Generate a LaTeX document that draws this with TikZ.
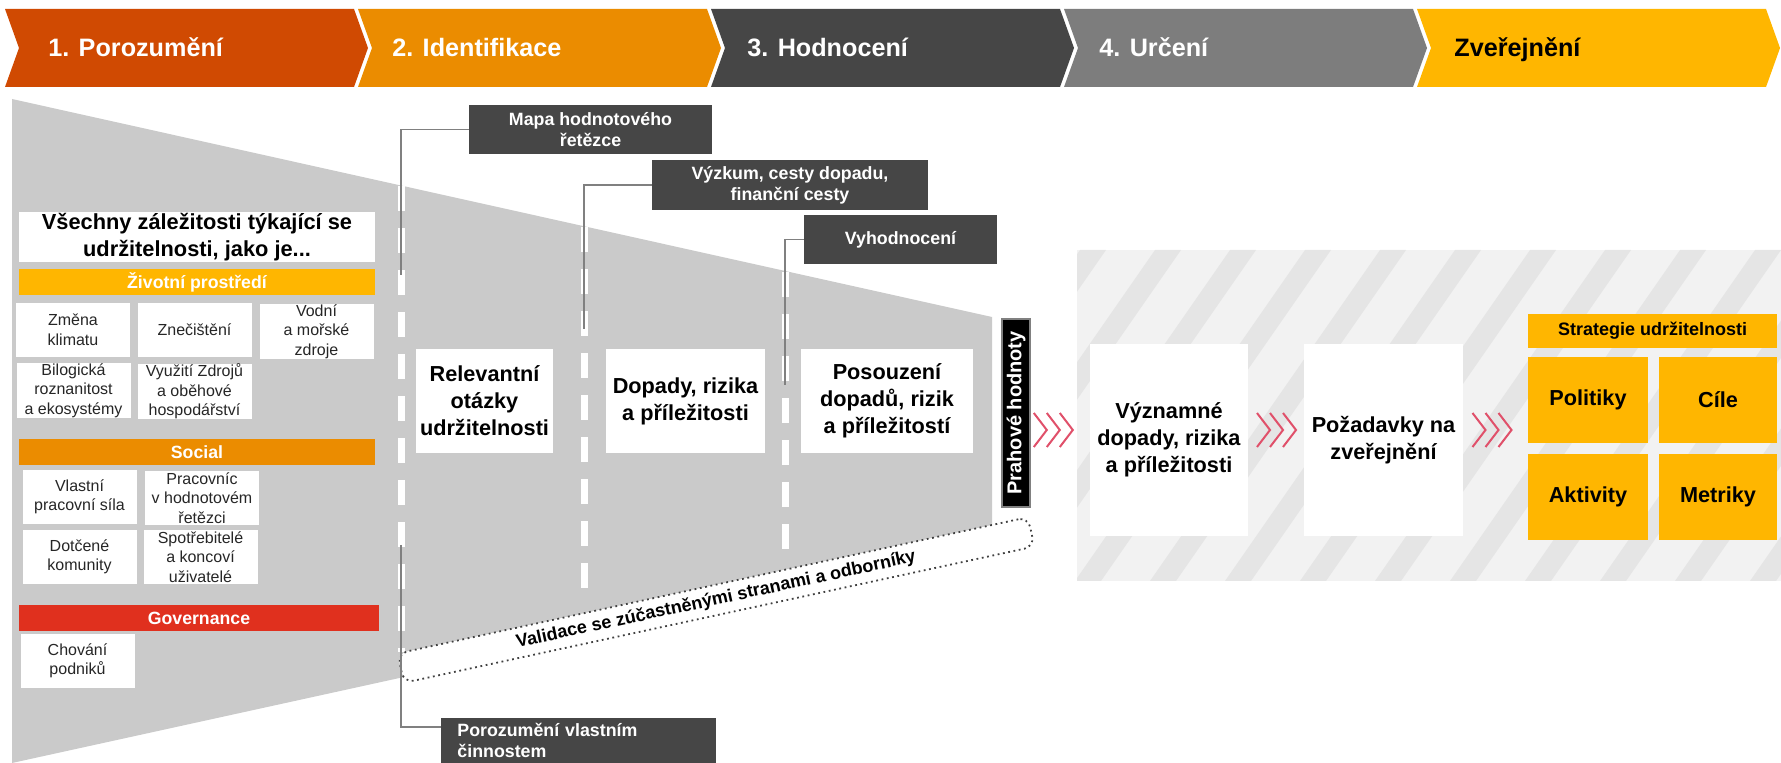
\documentclass[tikz,border=0pt]{standalone}
\usepackage{fontspec}
\setmainfont{Liberation Sans}
\usetikzlibrary{calc}

\definecolor{pwcorange}{HTML}{D04A02}
\definecolor{pwctangerine}{HTML}{EB8C00}
\definecolor{pwcdark}{HTML}{464646}
\definecolor{pwcgrey}{HTML}{7D7D7D}
\definecolor{pwcyellow}{HTML}{FFB600}
\definecolor{pwcred}{HTML}{E0301E}
\definecolor{pwcrose}{HTML}{E0506A}
\definecolor{funnelgrey}{HTML}{CACACA}
\definecolor{hatchbg}{HTML}{F2F2F2}
\definecolor{hatchstripe}{HTML}{E5E5E5}
\definecolor{linegrey}{HTML}{808080}

\begin{document}
\begin{tikzpicture}[x=0.5pt,y=-0.5pt,
		phase/.style={anchor=base west, inner sep=0pt, font=\bfseries\fontsize{12.6}{15}\selectfont},
		titlebox/.style={fill=white, align=center, inner sep=0pt, minimum width=178pt, minimum height=25pt,
			font=\bfseries\fontsize{10.9}{13.3}\selectfont},
		catbar/.style={fill=#1, text=white, inner sep=0pt, minimum width=178pt, minimum height=13pt,
			font=\bfseries\fontsize{8.85}{10}\selectfont},
		issue/.style={fill=white, text=black!85, align=center, inner sep=0pt, minimum width=57pt, minimum height=27pt,
			font=\fontsize{8}{9.75}\selectfont},
		darklabel/.style={fill=pwcdark, text=white, align=center, inner sep=0pt,
			font=\bfseries\fontsize{8.9}{10.5}\selectfont},
		stepbox/.style={fill=white, align=center, inner sep=0pt, minimum height=52pt,
			font=\bfseries\fontsize{10.85}{13.5}\selectfont},
		yellowbox/.style={fill=pwcyellow, align=center, inner sep=0pt, minimum width=60pt, minimum height=43pt,
			font=\bfseries\fontsize{10.85}{13.5}\selectfont},
		stagecut/.style={white, line width=3.5pt, dash pattern=on 12.5pt off 8.5pt},
		connector/.style={linegrey, line width=0.7pt},
		chevline/.style={pwcrose, line width=1pt},
		tripchev/.pic={\foreach \k in {0,1,2} \draw[chevline] ({\k*13-19},-17) -- ({\k*13-6},0) -- ({\k*13-19},17);}]
	\useasboundingbox (0,0) rectangle (1781,763);

	% phases
	\foreach \i/\col/\tx/\txt/\tcol in {0/pwcorange/48/1. Porozumění/white, 1/pwctangerine/392/2. Identifikace/white,
			2/pwcdark/747/3. Hodnocení/white, 3/pwcgrey/1099/4. Určení/white, 4/pwcyellow/1454/Zveřejnění/black}{
		\fill[\col] ({5+353*\i},9) -- ++(349,0) -- ++(14,39) -- ++(-14,39) -- ++(-349,0) -- ++(14,-39) -- cycle;
		\node[phase, text=\tcol] (phase\i) at (\tx,57) {\txt};
	}

	% funnel
	\fill[funnelgrey] (12,99) -- (992,317) -- (992,548) -- (12,763) -- cycle;
	\foreach \x/\ya/\yb in {401/186/652, 584/227/600, 785/272/560}
		\draw[stagecut] (\x,\ya) -- (\x,\yb);
	\node[rotate=12.2, draw=black!75, dash pattern=on 0.9pt off 1.8pt, line width=0.9pt, fill=white,
		rounded corners=5pt, minimum width=322.5pt, minimum height=15pt, inner sep=0pt,
		font=\bfseries\fontsize{9}{10}\selectfont] (valid) at (716,600) {Validace se zúčastněnými stranami a odborníky};

	% all issues
	\node[titlebox] (allissues) at (197,237) {Všechny záležitosti týkající se\\udržitelnosti, jako je...};
	\node[catbar=pwcyellow] (envbar) at (197,282.5) {Životní prostředí};
	\node[issue] (climate) at (73,330) {Změna\\klimatu};
	\node[issue] (pollution) at (194.5,330) {Znečištění};
	\node[issue] (water) at (316.5,331.5) {Vodní\\a mořské\\zdroje};
	\node[issue] (biodiv) at (73.5,390.5) {Bilogická\\roznanitost\\a ekosystémy};
	\node[issue] (resources) at (194.5,391.5) {Využití Zdrojů\\a oběhové\\hospodářství};
	\node[catbar=pwctangerine] (socbar) at (197,452) {Social};
	\node[issue] (workforce) at (79.5,497) {Vlastní\\pracovní síla};
	\node[issue] (valueworkers) at (202,498) {Pracovníc\\v hodnotovém\\řetězci};
	\node[issue] (communities) at (79.5,557) {Dotčené\\komunity};
	\node[issue] (consumers) at (200.5,557) {Spotřebitelé\\a koncoví\\uživatelé};
	\node[catbar=pwcred, minimum width=180pt] (govbar) at (199,618) {Governance};
	\node[issue] (conduct) at (77.5,661) {Chování\\podniků};

	% steps in the funnel
	\node[stepbox, minimum width=68.5pt] (relev) at (484.5,401) {Relevantní\\otázky\\udržitelnosti};
	\node[stepbox, minimum width=79.5pt] (dopady) at (685.5,401) {Dopady, rizika\\a příležitosti};
	\node[stepbox, minimum width=86pt] (posouz) at (887,401) {Posouzení\\dopadů, rizik\\a příležitostí};

	% tools
	\node[darklabel, minimum width=121.5pt, minimum height=24.5pt] (mapa) at (590.5,129.5) {Mapa hodnotového\\řetězce};
	\node[darklabel, minimum width=138pt, minimum height=25pt] (vyzkum) at (790,185) {Výzkum, cesty dopadu,\\finanční cesty};
	\node[darklabel, minimum width=96.5pt, minimum height=24.5pt] (vyhod) at (900.5,239.5) {Vyhodnocení};
	\node[darklabel, anchor=north west, align=left, text width=121.5pt, inner xsep=8pt, minimum height=22.5pt]
		(poroz) at (441,718) {Porozumění vlastním\\činnostem};
	\coordinate (mapaend) at (401,275);
	\coordinate (vyzkumend) at (584,329);
	\coordinate (vyhodend) at (785,385);
	\coordinate (porozend) at (401,545);
	\draw[connector] (mapa.west) -| (mapaend);
	\draw[connector] (vyzkum.west) -| (vyzkumend);
	\draw[connector] (vyhod.west) -| (vyhodend);
	\draw[connector] (porozend) |- ([yshift=-4.5pt]poroz.north west);

	% threshold
	\node[rotate=90, fill=black, draw=linegrey, line width=0.8pt, text=white, inner sep=0pt,
		minimum width=94pt, minimum height=14pt, font=\bfseries\fontsize{10}{12}\selectfont] (prah) at (1016,413) {Prahové hodnoty};

	% determination and disclosure
	\begin{scope}
		\clip (1077,250) rectangle (1781,581);
		\fill[hatchbg] (1077,250) rectangle (1781,581);
		\foreach \s in {0,...,13}
			\fill[hatchstripe] ({850+75*\s},581) -- ++(26,0) -- ++(230,-331) -- ++(-26,0) -- cycle;
	\end{scope}
	\node[stepbox, minimum width=79pt, minimum height=96pt] (vyzn) at (1169,440) {Významné\\dopady, rizika\\a příležitosti};
	\node[stepbox, minimum width=79.5pt, minimum height=96pt] (pozad) at (1383.5,440) {Požadavky na\\zveřejnění};
	\node[yellowbox, minimum width=124.5pt, minimum height=17pt, font=\bfseries\fontsize{9}{10}\selectfont]
		(strat) at (1652.5,331) {Strategie udržitelnosti};
	\node[yellowbox] (polit) at (1588,400) {Politiky};
	\node[yellowbox, minimum width=59pt] (cile) at (1718,400) {Cíle};
	\node[yellowbox] (aktiv) at (1588,497) {Aktivity};
	\node[yellowbox, minimum width=59pt] (metr) at (1718,497) {Metriky};

	\pic at ($(prah.center |- vyzn.west)!0.5!(vyzn.west) + (0,-10)$) {tripchev};
	\pic at ($(vyzn.east)!0.5!(pozad.west) + (0,-10)$) {tripchev};
	\pic at ($(pozad.east)!0.5!(polit.west |- pozad.east) + (-4,-10)$) {tripchev};
\end{tikzpicture}
\end{document}
